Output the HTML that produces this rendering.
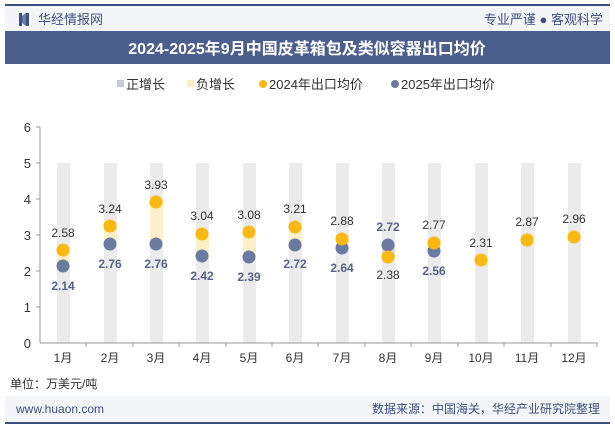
<!DOCTYPE html><html><head><meta charset="utf-8"><style>
body{margin:0;background:#fff;font-family:"Liberation Sans","Noto Sans CJK SC",sans-serif}
</style></head><body>
<svg width="615" height="427" xmlns="http://www.w3.org/2000/svg" font-family="Liberation Sans, Noto Sans CJK SC, sans-serif">
<rect x="0" y="0" width="615" height="427" fill="#fff"/>
<rect x="5" y="5" width="605" height="26" fill="#f3f5f9"/>
<line x1="5" y1="5" x2="610" y2="5" stroke="#3d5080" stroke-width="2"/>
<rect x="19" y="13" width="3" height="13" fill="#3d5080"/><rect x="26" y="13" width="3" height="13" fill="#3d5080"/><polygon points="22,16 26,13 26,26 22,23" fill="#6a7da8"/>
<text x="38" y="24" font-size="13" fill="#3d5080">华经情报网</text>
<text x="603" y="24" font-size="13" fill="#3d5080" text-anchor="end">专业严谨 ● 客观科学</text>
<rect x="5" y="31" width="605" height="33" fill="#4a5f8e"/>
<text x="307" y="54" font-size="16" font-weight="bold" fill="#fff" text-anchor="middle">2024-2025年9月中国皮革箱包及类似容器出口均价</text>
<g font-size="13" fill="#333">
<rect x="117" y="80" width="7" height="7" fill="#c8cad6"/><text x="126" y="89">正增长</text>
<rect x="187" y="80" width="7" height="7" fill="#fdf0c8"/><text x="196" y="89">负增长</text>
<circle cx="263" cy="84" r="4" fill="#f9b812"/><text x="269" y="89">2024年出口均价</text>
<circle cx="395" cy="84" r="4" fill="#6a7aa0"/><text x="401" y="89">2025年出口均价</text>
</g>
<g font-size="13" fill="#333" text-anchor="end">
<text x="31" y="132">6</text><text x="31" y="168">5</text><text x="31" y="204">4</text><text x="31" y="240">3</text><text x="31" y="276">2</text><text x="31" y="312">1</text><text x="31" y="348">0</text>
</g>
<line x1="40" y1="127" x2="40" y2="343" stroke="#999"/>
<g stroke="#999"><line x1="36" y1="127" x2="40" y2="127"/><line x1="36" y1="163" x2="40" y2="163"/><line x1="36" y1="199" x2="40" y2="199"/><line x1="36" y1="235" x2="40" y2="235"/><line x1="36" y1="271" x2="40" y2="271"/><line x1="36" y1="307" x2="40" y2="307"/></g>
<g id="bars" fill="#ebebeb">
<rect x="57" y="163" width="13" height="180"/><rect x="104" y="163" width="13" height="180"/><rect x="150" y="163" width="13" height="180"/><rect x="196" y="163" width="13" height="180"/><rect x="243" y="163" width="13" height="180"/><rect x="289" y="163" width="13" height="180"/><rect x="336" y="163" width="13" height="180"/><rect x="382" y="163" width="13" height="180"/><rect x="428" y="163" width="13" height="180"/><rect x="475" y="163" width="13" height="180"/><rect x="521" y="163" width="13" height="180"/><rect x="568" y="163" width="13" height="180"/>
</g>
<g fill="#fdf0c8">
<rect x="57" y="250" width="13" height="16"/><rect x="104" y="226" width="13" height="18"/><rect x="150" y="202" width="13" height="42"/><rect x="196" y="234" width="13" height="22"/><rect x="243" y="232" width="13" height="25"/><rect x="289" y="227" width="13" height="17"/><rect x="336" y="239" width="13" height="9"/><rect x="428" y="243" width="13" height="8"/>
</g>
<rect x="382" y="245" width="13" height="12" fill="#d8d9e2"/>
<line x1="40" y1="343" x2="598" y2="343" stroke="#999"/>
<g stroke="#999"><line x1="86" y1="343" x2="86" y2="347"/><line x1="133" y1="343" x2="133" y2="347"/><line x1="179" y1="343" x2="179" y2="347"/><line x1="226" y1="343" x2="226" y2="347"/><line x1="272" y1="343" x2="272" y2="347"/><line x1="318" y1="343" x2="318" y2="347"/><line x1="365" y1="343" x2="365" y2="347"/><line x1="411" y1="343" x2="411" y2="347"/><line x1="458" y1="343" x2="458" y2="347"/><line x1="504" y1="343" x2="504" y2="347"/><line x1="551" y1="343" x2="551" y2="347"/><line x1="597" y1="343" x2="597" y2="347"/></g>
<g font-size="12" fill="#333" text-anchor="middle">
<text x="63" y="362">1月</text><text x="110" y="362">2月</text><text x="156" y="362">3月</text><text x="202" y="362">4月</text><text x="249" y="362">5月</text><text x="295" y="362">6月</text><text x="342" y="362">7月</text><text x="388" y="362">8月</text><text x="434" y="362">9月</text><text x="481" y="362">10月</text><text x="527" y="362">11月</text><text x="574" y="362">12月</text>
</g>
<g fill="#6a7aa0">
<circle cx="63" cy="266" r="6.5"/><circle cx="110" cy="244" r="6.5"/><circle cx="156" cy="244" r="6.5"/><circle cx="202" cy="256" r="6.5"/><circle cx="249" cy="257" r="6.5"/><circle cx="295" cy="245" r="6.5"/><circle cx="342" cy="248" r="6.5"/><circle cx="388" cy="245" r="6.5"/><circle cx="434" cy="251" r="6.5"/>
</g>
<g fill="#f9b812">
<circle cx="63" cy="250" r="6.5"/><circle cx="110" cy="226" r="6.5"/><circle cx="156" cy="202" r="6.5"/><circle cx="202" cy="234" r="6.5"/><circle cx="249" cy="232" r="6.5"/><circle cx="295" cy="227" r="6.5"/><circle cx="342" cy="239" r="6.5"/><circle cx="388" cy="257" r="6.5"/><circle cx="434" cy="243" r="6.5"/><circle cx="481" cy="260" r="6.5"/><circle cx="527" cy="240" r="6.5"/><circle cx="574" cy="237" r="6.5"/>
</g>
<g font-size="12" fill="#333" text-anchor="middle">
<text x="63" y="237">2.58</text><text x="110" y="213">3.24</text><text x="156" y="189">3.93</text><text x="202" y="220">3.04</text><text x="249" y="219">3.08</text><text x="295" y="213">3.21</text><text x="342" y="225">2.88</text><text x="388" y="279">2.38</text><text x="434" y="229">2.77</text><text x="481" y="247">2.31</text><text x="527" y="226">2.87</text><text x="574" y="223">2.96</text>
</g>
<g font-size="12" font-weight="bold" fill="#56648a" text-anchor="middle">
<text x="63" y="290">2.14</text><text x="110" y="268">2.76</text><text x="156" y="268">2.76</text><text x="202" y="280">2.42</text><text x="249" y="281">2.39</text><text x="295" y="268">2.72</text><text x="342" y="272">2.64</text><text x="388" y="231">2.72</text><text x="434" y="275">2.56</text>
</g>
<text x="10" y="388" font-size="12" fill="#333">单位：万美元/吨</text>
<rect x="5" y="396" width="605" height="26" fill="#f3f5f9"/>
<line x1="5" y1="423" x2="610" y2="423" stroke="#3d5080" stroke-width="2"/>
<text x="16" y="413" font-size="12" fill="#3d5080">www.huaon.com</text>
<text x="600" y="413" font-size="12" fill="#3d5080" text-anchor="end">数据来源：中国海关，华经产业研究院整理</text>
</svg>
</body></html>
